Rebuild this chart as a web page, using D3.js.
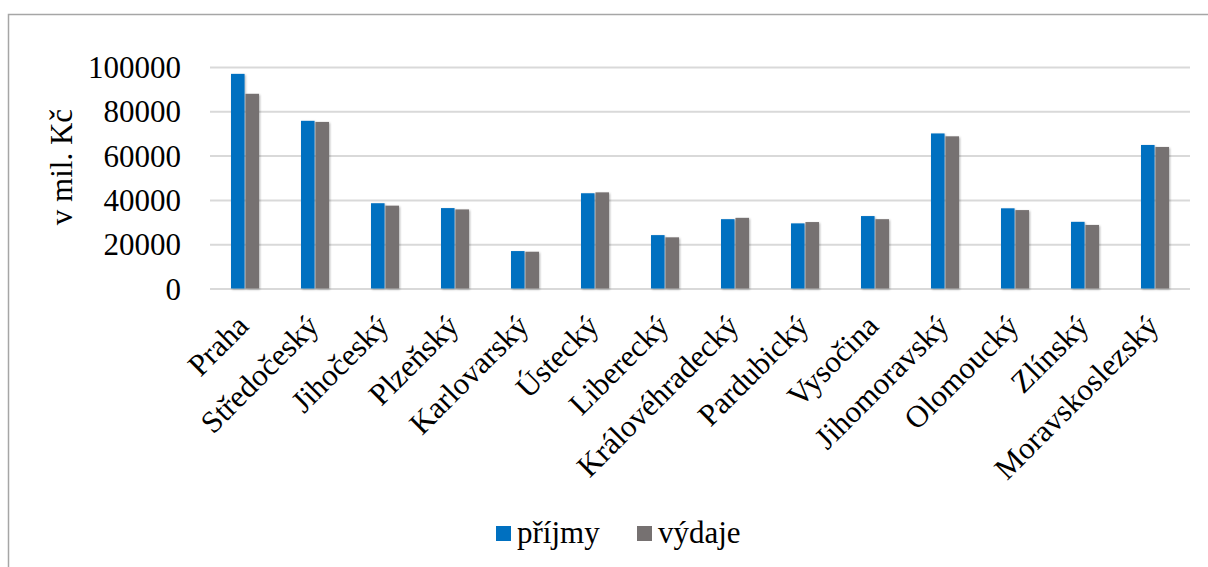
<!DOCTYPE html>
<html>
<head>
<meta charset="utf-8">
<script src="https://cdn.jsdelivr.net/npm/d3@7"></script>
<style>
  html, body { margin: 0; padding: 0; background: #fff; }
  svg { display: block; }
  svg text { font-family: "Liberation Serif", "Tinos", "Times New Roman", "DejaVu Serif", serif; fill: #000; }
</style>
</head>
<body>
<svg id="chart" width="1208" height="567"></svg>
<script>
const categories = ["Praha", "Středočeský", "Jihočeský", "Plzeňský", "Karlovarský", "Ústecký",
  "Liberecký", "Královéhradecký", "Pardubický", "Vysočina", "Jihomoravský", "Olomoucký",
  "Zlínský", "Moravskoslezský"];
const seriesNames = ["příjmy", "výdaje"];
const prijmy = [96900, 75700, 38500, 36300, 16900, 43000, 24100, 31300, 29400, 32700, 70000, 36200, 30100, 64800];
const vydaje = [87900, 75200, 37400, 35700, 16600, 43400, 23100, 31900, 30000, 31300, 68700, 35400, 28700, 63900];
const yTicks = [0, 20000, 40000, 60000, 80000, 100000];
const colors = ["#0070C0", "#767171"];

const svg = d3.select("#chart");

// outer frame (top and left visible)
svg.append("path")
  .attr("d", "M8.5,567 L8.5,14.5 L1208,14.5")
  .attr("fill", "none").attr("stroke", "#A6A6A6").attr("stroke-width", 1.5);

const defs = svg.append("defs");
const f = defs.append("filter").attr("id", "sh").attr("x", "-30%").attr("y", "-10%").attr("width", "160%").attr("height", "120%");
f.append("feDropShadow").attr("dx", 1).attr("dy", 1).attr("stdDeviation", 1.2).attr("flood-color", "#000").attr("flood-opacity", 0.3);

const mLeft = 210, mRight = 1190, mTop = 67, mBottom = 288.5;

const x0 = d3.scaleBand().domain(categories).range([mLeft, mRight]).paddingInner(0.6).paddingOuter(0.3);
const x1 = d3.scaleBand().domain(seriesNames).range([0, x0.bandwidth()]).paddingInner(0.06);
const y = d3.scaleLinear().domain([0, 100000]).range([mBottom, mTop]);

// gridlines
const yAxis = d3.axisLeft(y).tickValues(yTicks).tickSize(-(mRight - mLeft)).tickFormat(d => d).tickPadding(29);
const gy = svg.append("g").attr("transform", `translate(${mLeft},0)`).call(yAxis);
gy.attr("font-family", null);
gy.select(".domain").remove();
gy.selectAll(".tick line").attr("stroke", "#D9D9D9").attr("stroke-width", 2);
gy.selectAll(".tick text").attr("font-size", 31).attr("dy", "0.34em");

// bars
const data = categories.map((c, i) => ({ c, vals: [prijmy[i], vydaje[i]] }));
const groups = svg.append("g").selectAll("g").data(data).join("g")
  .attr("transform", d => `translate(${x0(d.c)},0)`);
groups.selectAll("rect").data(d => d.vals.map((v, k) => ({ k, v })))
  .join("rect")
  .attr("x", d => x1(seriesNames[d.k]))
  .attr("width", x1.bandwidth())
  .attr("y", d => y(d.v))
  .attr("height", d => y(0) - y(d.v))
  .attr("fill", d => colors[d.k])
  .attr("filter", "url(#sh)");

// x axis labels
const xAxis = d3.axisBottom(x0).tickSize(0).tickPadding(0);
const gx = svg.append("g").attr("transform", `translate(0,${mBottom})`).call(xAxis);
gx.attr("font-family", null);
gx.select(".domain").remove();
gx.selectAll(".tick text")
  .attr("font-size", 31)
  .attr("text-anchor", "end")
  .attr("transform", "translate(-10,24) rotate(-45)")
  .attr("dy", "0.7em").attr("y", 0).attr("x", 0);

// y axis title
svg.append("text")
  .attr("transform", "translate(72,167) rotate(-90)")
  .attr("text-anchor", "middle")
  .attr("font-size", 31)
  .text("v mil. Kč");

// legend
const legend = svg.append("g");
const legX = [496, 637];
seriesNames.forEach((s, i) => {
  legend.append("rect").attr("x", legX[i]).attr("y", 526).attr("width", 15).attr("height", 15).attr("fill", colors[i]);
  legend.append("text").attr("x", legX[i] + 21).attr("y", 543).attr("font-size", 31).text(s);
});
</script>
</body>
</html>
